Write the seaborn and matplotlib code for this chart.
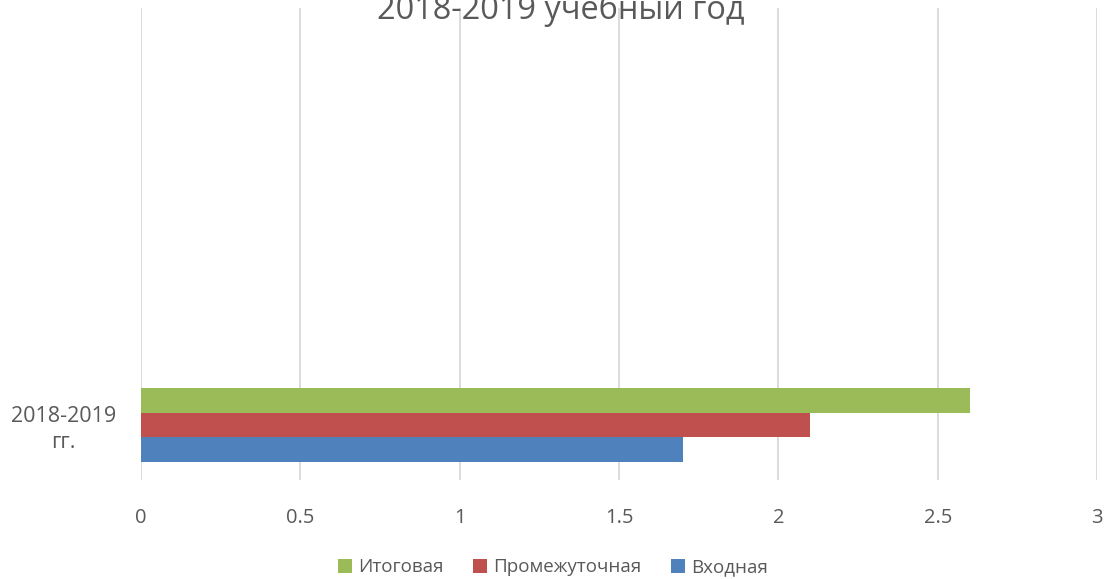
import pandas as pd
import numpy as np
import matplotlib
matplotlib.use("Agg")
import matplotlib.pyplot as plt
import seaborn as sns

# Data
categories = ["2018-2019\nгг."]
series_names = ["Итоговая", "Промежуточная", "Входная"]
values = [2.6, 2.1, 1.7]
colors = ["#9BBB59", "#C0504D", "#4F81BD"]
x_ticks = [0, 0.5, 1, 1.5, 2, 2.5, 3]
x_tick_labels = ["0", "0.5", "1", "1.5", "2", "2.5", "3"]
title = "2018-2019 учебный год"

df = pd.DataFrame({
    "category": categories * len(series_names),
    "series": series_names,
    "value": values,
})

sns.set_theme(style="white")
plt.rcParams["font.family"] = ["Open Sans", "DejaVu Sans"]
text_color = "#595959"

fig = plt.figure(figsize=(11.06, 5.79), dpi=100)
ax = fig.add_axes([0.1275, 0.171, 0.8644, 0.815])

sns.barplot(data=df, y="category", x="value", hue="series",
            hue_order=series_names, palette=colors, orient="h",
            width=0.8, saturation=1, linewidth=0, ax=ax, legend=True)

ax.set_xlim(0, 3)
ax.set_ylim(0.595, -4.51)
ax.set_xticks(x_ticks)
ax.set_xticklabels(x_tick_labels)
ax.set_xlabel("")
ax.set_ylabel("")
ax.grid(axis="x", color="#D9D9D9", linewidth=1.3)
ax.set_axisbelow(True)
for s in ax.spines.values():
    s.set_visible(False)
ax.tick_params(axis="x", length=0, pad=20, labelsize=14.5, labelcolor=text_color)
ax.tick_params(axis="y", length=0, pad=18, labelsize=15.5, labelcolor=text_color)
for lab in ax.get_yticklabels():
    lab.set_multialignment("center")
    lab.set_linespacing(1.3)

leg = ax.get_legend()
handles, labels = ax.get_legend_handles_labels()
leg.remove()
fig.legend(handles, labels, loc="center", bbox_to_anchor=(0.5, 0.02),
           ncol=3, frameon=False, fontsize=13.5, handlelength=0.75,
           handleheight=0.75, handletextpad=0.3, columnspacing=1.6,
           labelcolor=text_color)

fig.text(561 / 1106, 1 - 19 / 579, title, ha="center", va="baseline",
         fontsize=23.4, color=text_color)

fig.savefig("out.png", dpi=100)
